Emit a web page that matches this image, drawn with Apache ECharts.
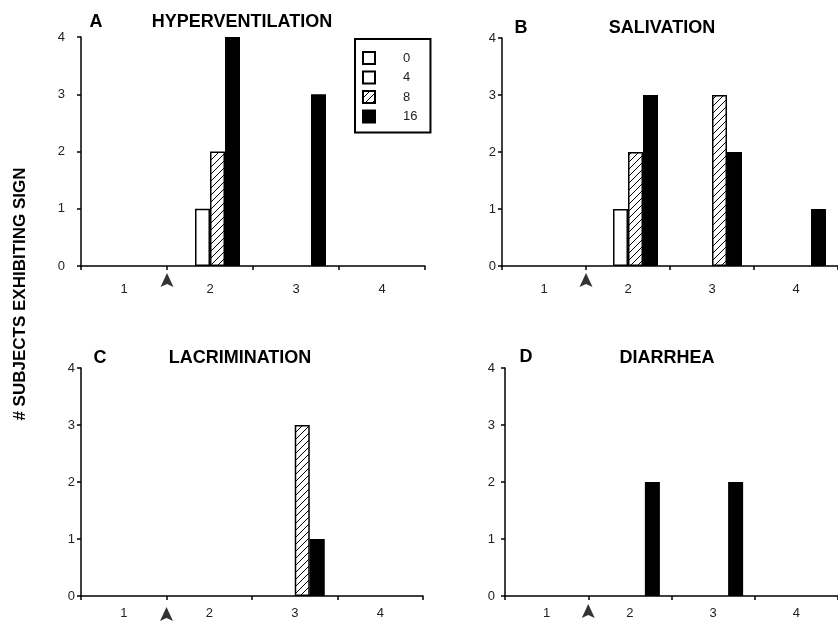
<!DOCTYPE html>
<html><head><meta charset="utf-8">
<script src="https://cdn.jsdelivr.net/npm/echarts@6/dist/echarts.min.js"></script>
<style>html,body{margin:0;padding:0;background:#fff}#c{width:838px;height:621px}</style>
</head><body><div id="c"></div>
<script>
// ---- data ----
const categories = ['1', '2', '3', '4'];
const doses = ['0', '4', '8', '16'];
const panelLetters = ['A', 'B', 'C', 'D'];
const panelTitles = ['HYPERVENTILATION', 'SALIVATION', 'LACRIMINATION', 'DIARRHEA'];
const yTickValues = [0, 1, 2, 3, 4];
const arrowPosition = [1.5];   // treatment marker, between category 1 and 2

const hyper0 = [0, 0, 0, 0];
const hyper4 = [0, 1, 0, 0];
const hyper8 = [0, 2, 0, 0];
const hyper16 = [0, 4, 3, 0];

const saliv0 = [0, 0, 0, 0];
const saliv4 = [0, 1, 0, 0];
const saliv8 = [0, 2, 3, 0];
const saliv16 = [0, 3, 2, 1];

const lacri0 = [0, 0, 0, 0];
const lacri4 = [0, 0, 0, 0];
const lacri8 = [0, 0, 3, 0];
const lacri16 = [0, 0, 1, 0];

const diarr0 = [0, 0, 0, 0];
const diarr4 = [0, 0, 0, 0];
const diarr8 = [0, 0, 0, 0];
const diarr16 = [0, 2, 2, 0];

const panels = [
  [hyper0, hyper4, hyper8, hyper16],
  [saliv0, saliv4, saliv8, saliv16],
  [lacri0, lacri4, lacri8, lacri16],
  [diarr0, diarr4, diarr8, diarr16]
];

// ---- layout / style ----
const FONT = '"Liberation Sans", Arial, Helvetica, sans-serif';
const grids = [
  { left: 81, top: 37, width: 344, height: 229 },
  { left: 502, top: 38, width: 341, height: 228 },
  { left: 81, top: 368, width: 342, height: 228 },
  { left: 505, top: 368, width: 343, height: 228 }
];
const yLabelMargin = [16, 6, 6, 10];
const xLabelMargin = [17, 17, 11, 11];
const arrowOffset = [14, 14, 18, 15];
const letterPos = [[96, 22], [521, 28], [100, 358], [526, 357]];
const titlePos = [[242, 22], [662, 28], [240, 358], [667, 358]];

// hatch pattern
const hatch = document.createElement('canvas');
hatch.width = 7; hatch.height = 7;
(function () {
  const c = hatch.getContext('2d');
  c.fillStyle = '#fff'; c.fillRect(0, 0, 7, 7);
  c.strokeStyle = '#000'; c.lineWidth = 1;
  c.beginPath();
  c.moveTo(0, 7); c.lineTo(7, 0);
  c.moveTo(-1, 1); c.lineTo(1, -1);
  c.moveTo(6, 8); c.lineTo(8, 6);
  c.stroke();
})();

const fills = ['#ffffff', '#ffffff', { image: hatch, repeat: 'repeat' }, '#000000'];

const xAxes = [], yAxes = [], series = [], graphics = [];
grids.forEach((g, i) => {
  xAxes.push({
    type: 'category', gridIndex: i, data: categories,
    axisLine: { lineStyle: { color: '#000', width: 1.5 } },
    axisTick: { show: true, length: 4, lineStyle: { color: '#000', width: 1.5 } },
    axisLabel: { color: '#222', fontSize: 13, fontFamily: FONT, margin: xLabelMargin[i] },
    splitLine: { show: false }
  });
  yAxes.push({
    type: 'value', gridIndex: i, min: 0, max: 4, interval: 1,
    axisLine: { show: true, lineStyle: { color: '#000', width: 1.5 } },
    axisTick: { show: true, length: 4, lineStyle: { color: '#000', width: 1.5 } },
    axisLabel: { color: '#222', fontSize: 13, fontFamily: FONT, margin: yLabelMargin[i],
      formatter: v => yTickValues.indexOf(v) >= 0 ? String(v) : '' },
    splitLine: { show: false }
  });
  doses.forEach((d, j) => {
    series.push({
      type: 'bar', name: d, xAxisIndex: i, yAxisIndex: i,
      data: panels[i][j].map(v => (v === 0 ? '-' : v)), barWidth: 15, barGap: '0%',
      itemStyle: { color: fills[j], borderColor: '#000', borderWidth: 1.5 },
      silent: true, animation: false
    });
  });
  graphics.push({ type: 'text', x: letterPos[i][0], y: letterPos[i][1],
    style: { text: panelLetters[i], fontSize: 18, fontWeight: 'bold', fontFamily: FONT, fill: '#000', align: 'center', verticalAlign: 'middle' } });
  graphics.push({ type: 'text', x: titlePos[i][0], y: titlePos[i][1],
    style: { text: panelTitles[i], fontSize: 18, fontWeight: 'bold', fontFamily: FONT, fill: '#000', align: 'center', verticalAlign: 'middle' } });
});
// hidden value axes for the treatment arrows
grids.forEach((g, i) => {
  xAxes.push({ type: 'value', gridIndex: i, min: 0.5, max: 4.5, show: false });
  series.push({
    type: 'scatter', xAxisIndex: 4 + i, yAxisIndex: i,
    data: arrowPosition.map(x => [x, 0]),
    symbol: 'path://M7,0 L14,14 L7,11 L0,14 Z', symbolSize: [13, 14],
    symbolOffset: [0, arrowOffset[i]],
    itemStyle: { color: '#000' }, clip: false, silent: true, animation: false, z: 10
  });
});
graphics.push({ type: 'text', x: 20, y: 294, rotation: Math.PI / 2,
  style: { text: '# SUBJECTS EXHIBITING SIGN', fontSize: 17, fontWeight: 'bold', fontFamily: FONT, fill: '#000', align: 'center', verticalAlign: 'middle' } });

const chart = echarts.init(document.getElementById('c'), null, { renderer: 'canvas' });
chart.setOption({
  backgroundColor: '#fff',
  animation: false,
  grid: grids,
  xAxis: xAxes,
  yAxis: yAxes,
  legend: {
    orient: 'vertical', left: 355, top: 39, data: doses,
    itemWidth: 12, itemHeight: 12, itemGap: 5.5, icon: 'rect',
    padding: [12, 13, 9, 7], borderColor: '#000', borderWidth: 2,
    selectedMode: false,
    textStyle: { fontSize: 13, color: '#222', fontFamily: FONT, lineHeight: 12, padding: [0, 0, 0, 23] }
  },
  series: series,
  graphic: graphics
});
</script></body></html>
